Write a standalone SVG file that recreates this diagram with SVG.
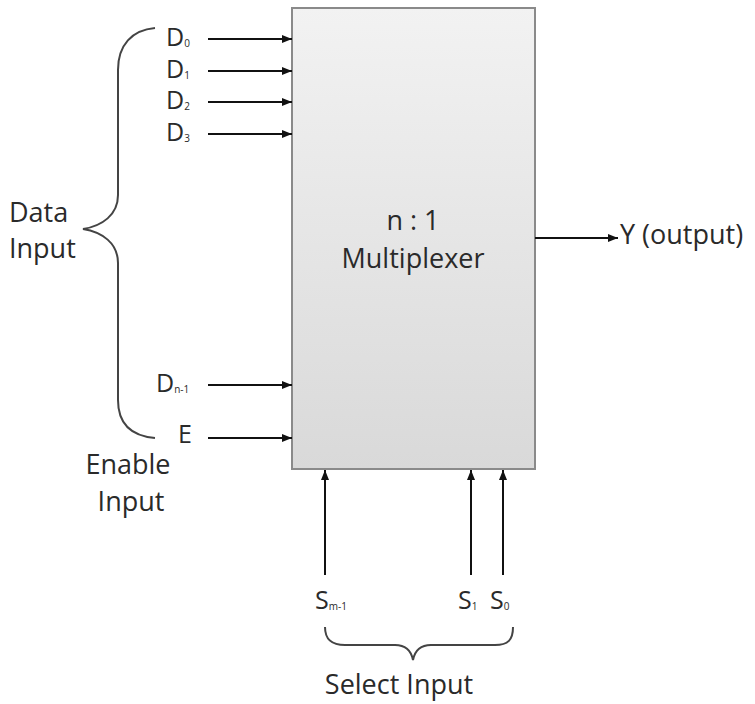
<svg xmlns="http://www.w3.org/2000/svg" width="755" height="704" viewBox="0 0 755 704">
<defs>
<linearGradient id="boxfill" x1="0" y1="0" x2="0" y2="1">
<stop offset="0" stop-color="#f2f2f2"/>
<stop offset="1" stop-color="#d9d9d9"/>
</linearGradient>
<marker id="arr" viewBox="0 0 10 10" refX="10" refY="5" markerWidth="10" markerHeight="10" markerUnits="userSpaceOnUse" orient="auto">
<path d="M0,1 L10,5 L0,9 z" fill="#111"/>
</marker>
<style>
text{font-family:"Open Sans","Liberation Sans",sans-serif;font-size:27px;fill:#2a2a2a}
.lbl{font-size:25px}
.sub{font-size:10px}
.wire{stroke:#111;stroke-width:2;fill:none;marker-end:url(#arr)}
.brace{stroke:#444;stroke-width:2;fill:none}
</style>
</defs>
<rect width="755" height="704" fill="#fff"/>
<g id="mux">
<rect x="292" y="8" width="243" height="461" fill="url(#boxfill)" stroke="#8a8a8a" stroke-width="2"/>
<text x="413" y="230" text-anchor="middle">n : 1</text>
<text x="413" y="268" text-anchor="middle">Multiplexer</text>
</g>
<g id="connectors">
<line class="wire" x1="208" y1="39" x2="292" y2="39"/>
<line class="wire" x1="208" y1="71" x2="292" y2="71"/>
<line class="wire" x1="208" y1="102" x2="292" y2="102"/>
<line class="wire" x1="208" y1="134" x2="292" y2="134"/>
<line class="wire" x1="208" y1="385" x2="292" y2="385"/>
<line class="wire" x1="208" y1="438" x2="292" y2="438"/>
<line class="wire" x1="535" y1="238" x2="618" y2="238"/>
<line class="wire" x1="325" y1="575" x2="325" y2="470"/>
<line class="wire" x1="471" y1="575" x2="471" y2="470"/>
<line class="wire" x1="503" y1="575" x2="503" y2="470"/>
</g>
<g id="data-inputs">
<text class="lbl" x="166" y="46">D<tspan class="sub" dy="1">0</tspan></text>
<text class="lbl" x="166" y="78">D<tspan class="sub" dy="1">1</tspan></text>
<text class="lbl" x="166" y="109">D<tspan class="sub" dy="1">2</tspan></text>
<text class="lbl" x="166" y="141">D<tspan class="sub" dy="1">3</tspan></text>
<text class="lbl" x="156" y="392">D<tspan class="sub" dy="1">n-1</tspan></text>
</g>
<g id="data-brace">
<path class="brace" d="M155,28 C132,30 118,45 118,70 L118,195 C118,215 102,226 83,229 C102,232 118,243 118,263 L118,400 C118,425 132,436 155,438"/>
<text x="9" y="222">Data</text>
<text x="9" y="258">Input</text>
</g>
<g id="enable">
<text class="lbl" x="178" y="443">E</text>
<text x="128" y="474" text-anchor="middle">Enable</text>
<text x="131" y="511" text-anchor="middle">Input</text>
</g>
<g id="output">
<text x="620" y="244">Y (output)</text>
</g>
<g id="select">
<text class="lbl" x="315" y="609">S<tspan class="sub" dy="1">m-1</tspan></text>
<text class="lbl" x="458" y="609">S<tspan class="sub" dy="1">1</tspan></text>
<text class="lbl" x="490" y="609">S<tspan class="sub" dy="1">0</tspan></text>
<path class="brace" d="M325,627 C325,640 332,645 345,645 L395,645 C405,645 411,650 413,660 C415,650 421,645 431,645 L495,645 C508,645 513,640 513,627"/>
<text x="399" y="694" text-anchor="middle">Select Input</text>
</g>
</svg>
